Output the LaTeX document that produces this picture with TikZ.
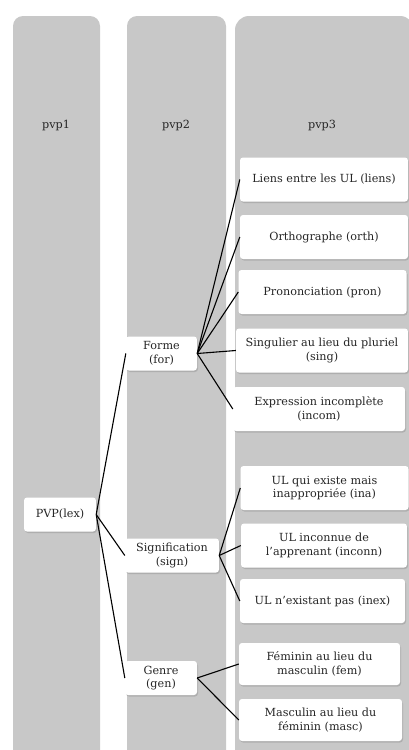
\documentclass[tikz,border=0pt]{standalone}
\usepackage{fontspec}
\setmainfont{DejaVu Serif}
\usetikzlibrary{shadows}
\definecolor{colgray}{RGB}{200,200,200}
\begin{document}
\begin{tikzpicture}[x=1pt,y=-1pt,
    column/.style={fill=colgray,rounded corners=10pt},
    box/.style={fill=white,rounded corners=3pt,align=center,inner sep=1pt,
      font=\fontsize{11.2}{13.8}\selectfont,text=black!85,
      drop shadow={opacity=0.35,shadow xshift=1pt,shadow yshift=-1.5pt}},
    mid/.style={box,minimum height=34pt},
    leaf/.style={box,minimum width=168pt,minimum height=44pt},
    head/.style={font=\fontsize{11.2}{13.8}\selectfont,text=black!85}]
      \clip (0,0) rectangle (409,750);
      \fill[white] (0,0) rectangle (409,750);
      % columns
      \fill[column] (13,16) rectangle (100,770);
      \fill[column] (127,16) rectangle (226,770);
      \fill[column,rounded corners=14pt] (235,16) rectangle (414,770);
      \draw
        (56,126) node[head] (pvp1){pvp1}
        (176,126) node[head] (pvp2){pvp2}
        (322,126) node[head] (pvp3){pvp3};
      \draw
        (60,514.5) node[mid,minimum width=72pt] (lex){PVP(lex)}
        (161.5,353.5) node[mid,minimum width=71pt] (for){Forme\\(for)}
        (172,555.5) node[mid,minimum width=94pt] (sign){Signification\\(sign)}
        (161,678) node[mid,minimum width=72pt] (gen){Genre\\(gen)};
      \draw
        (324,179.5) node[leaf] (liens){Liens entre les UL (liens)}
        (324,237) node[leaf] (orth){Orthographe (orth)}
        (322.5,292) node[leaf] (pron){Prononciation (pron)}
        (322,350.5) node[leaf,minimum width=172pt] (sing){Singulier au lieu du pluriel\\(sing)}
        (319,409) node[leaf,minimum width=172pt] (incom){Expression incomplète\\(incom)}
        (324.5,488) node[leaf] (ina){UL qui existe mais\\inappropriée (ina)}
        (324,545.5) node[leaf,minimum width=166pt] (inconn){UL inconnue de\\l'apprenant (inconn)}
        (322.5,601) node[leaf,minimum width=165pt] (inex){UL n'existant pas (inex)}
        (319.5,664) node[leaf,minimum width=161pt,minimum height=42pt] (fem){Féminin au lieu du\\masculin (fem)}
        (320.5,720) node[leaf,minimum width=163pt,minimum height=42pt] (masc){Masculin au lieu du\\féminin (masc)};
      \begin{scope}[-,line width=1.1pt]
        \draw (lex.east) to (for.west);
        \draw (lex.east) to (sign.west);
        \draw (lex.east) to (gen.west);
        \draw (for.east) to (liens.west);
        \draw (for.east) to (orth.west);
        \draw (for.east) to (pron.west);
        \draw (for.east) to (sing.west);
        \draw (for.east) to (incom.west);
        \draw (sign.east) to (ina.west);
        \draw (sign.east) to (inconn.west);
        \draw (sign.east) to (inex.west);
        \draw (gen.east) to (fem.west);
        \draw (gen.east) to (masc.west);
      \end{scope}
    \end{tikzpicture}
\end{document}
